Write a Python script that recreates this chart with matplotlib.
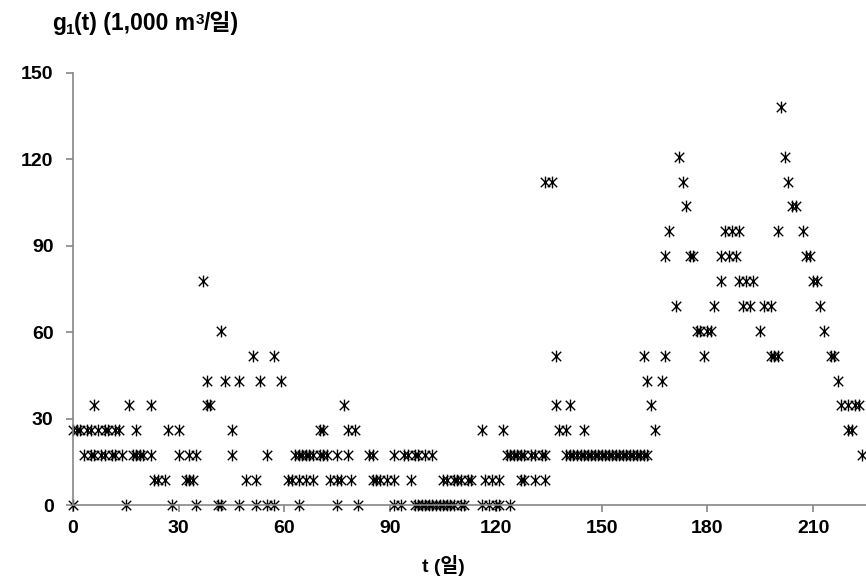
import matplotlib
matplotlib.use("Agg")
import matplotlib.pyplot as plt
from matplotlib.path import Path
from matplotlib.transforms import offset_copy

# flow levels (1,000 m3/day) -> days (t) at which that level occurs
step = 8.64
d00 = [0, 15, 28, 35, 41, 42, 47, 52, 55, 57, 64, 75, 81, 91, 93, 97, 98, 99, 100, 101,
       102, 103, 104, 105, 106, 107, 108, 110, 111, 116, 118, 120, 121, 124]
d01 = [23, 24, 26, 32, 33, 34, 49, 52, 61, 62, 64, 66, 68, 73, 75, 76, 79, 85, 86, 87, 89,
       91, 96, 105, 106, 108, 109, 110, 112, 113, 117, 119, 121, 127, 128, 131, 134]
d02 = [3, 5, 6, 8, 9, 11, 12, 14, 17, 18, 19, 20, 22, 30, 33, 35, 45, 55, 63, 64, 65, 66,
       67, 68, 70, 71, 72, 75, 78, 84, 85, 91, 94, 95, 97, 98, 100, 102, 123, 124, 125,
       126, 127, 128, 130, 131, 133, 134, 140, 141, 142, 143, 144, 145, 146, 147, 148, 149,
       150, 151, 152, 153, 154, 155, 156, 157, 158, 159, 160, 161, 162, 163, 224]
d03 = [0, 1, 2, 4, 5, 7, 9, 10, 12, 13, 18, 27, 30, 45, 70, 71, 78, 80, 116, 122, 138,
       140, 145, 165, 220, 221]
d04 = [6, 16, 22, 38, 39, 77, 137, 141, 164, 218, 220, 222, 223]
d05 = [38, 43, 47, 53, 59, 163, 167, 217]
d06 = [51, 57, 137, 162, 168, 179, 198, 199, 200, 215, 216]
d07 = [42, 177, 178, 180, 181, 195, 213]
d08 = [171, 182, 190, 192, 196, 198, 212]
d09 = [37, 184, 189, 191, 193, 210, 211]
d10 = [168, 175, 176, 184, 186, 188, 208, 209]
d11 = [169, 185, 187, 189, 200, 207]
d12 = [174, 204, 205]
d13 = [134, 136, 173, 203]
d14 = [172, 202]
d16 = [201]

level_days = [(0, d00), (1, d01), (2, d02), (3, d03), (4, d04), (5, d05), (6, d06),
              (7, d07), (8, d08), (9, d09), (10, d10), (11, d11), (12, d12), (13, d13),
              (14, d14), (16, d16)]

t_vals, g_vals = [], []
for k, days in level_days:
    for d in days:
        t_vals.append(d)
        g_vals.append(k * step)

x_ticks = [0, 30, 60, 90, 120, 150, 180, 210]
y_ticks = [0, 30, 60, 90, 120, 150]

fam = ['Liberation Sans', 'DejaVu Sans', 'Noto Sans CJK KR']
plt.rcParams['font.family'] = fam

fig = plt.figure(figsize=(8.66, 5.83), dpi=100)
ax = fig.add_axes([73 / 866, 1 - 505 / 583, 1 - 73 / 866, (505 - 73) / 583])

a = 0.8
star = Path([(0, -1), (0, 1), (-a, -a), (a, a), (-a, a), (a, -a)],
            [Path.MOVETO, Path.LINETO, Path.MOVETO, Path.LINETO, Path.MOVETO, Path.LINETO])

ax.plot(t_vals, g_vals, linestyle='none', marker=star, markersize=8.5,
        markeredgecolor='black', markerfacecolor='none', markeredgewidth=1.0,
        clip_on=False)

ax.set_xlim(0, 225)
ax.set_ylim(0, 150)
ax.set_xticks(x_ticks)
ax.set_yticks(y_ticks)
for s in ['top', 'right']:
    ax.spines[s].set_visible(False)
for s in ['left', 'bottom']:
    ax.spines[s].set_color('#868686')
    ax.spines[s].set_linewidth(1.2)
ax.tick_params(axis='both', direction='out', length=5, color='#868686', width=1.2,
               labelsize=14, pad=6)
for lab in ax.get_xticklabels() + ax.get_yticklabels():
    lab.set_fontweight('bold')
ax.tick_params(axis='y', pad=9)

# y-axis title built from pieces (subscript 1, superscript 3)
pieces = [('g', 16.5, 0), ('1', 11, -4), ('(t) (1,000 m', 16.5, 0), ('3', 11, 6),
          ('/일)', 16.5, 0)]
renderer = fig.canvas.get_renderer()
x0 = 52
ybase = 583 - 30
for txt, fs, dy in pieces:
    tr = offset_copy(fig.transFigure, fig=fig, x=0, y=dy, units='dots')
    tobj = fig.text(x0 / 866, ybase / 583, txt, fontsize=fs, fontweight='bold',
                    ha='left', va='baseline', family=fam, transform=tr)
    bb = tobj.get_window_extent(renderer=renderer)
    x0 = x0 + bb.width

fig.text(443 / 866, 1 - 565 / 583, 't (일)', fontsize=14, fontweight='bold',
         ha='center', va='center', family=fam)

fig.savefig('out.png', dpi=100)
